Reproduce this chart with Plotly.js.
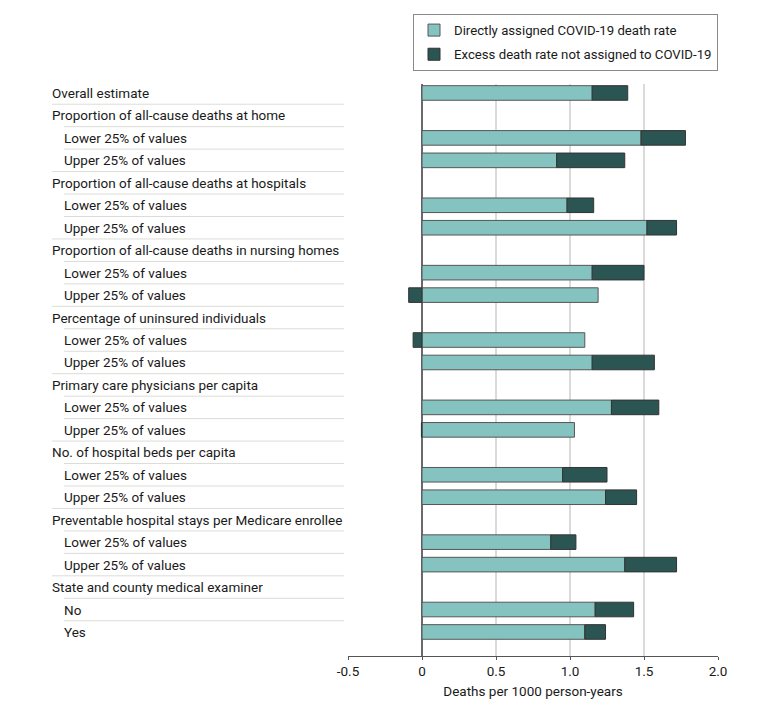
<!DOCTYPE html>
<html>
<head>
<meta charset="utf-8">
<script src="https://cdn.plot.ly/plotly-3.0.1.min.js"></script>
<style>
  html, body { margin: 0; padding: 0; background: #ffffff; }
  #chart { width: 780px; height: 708px; }
</style>
</head>
<body>
<div id="chart"></div>
<script>
// ---- data ----
var rowLabels = [
  "Overall estimate",
  "Proportion of all-cause deaths at home",
  "Lower 25% of values",
  "Upper 25% of values",
  "Proportion of all-cause deaths at hospitals",
  "Lower 25% of values",
  "Upper 25% of values",
  "Proportion of all-cause deaths in nursing homes",
  "Lower 25% of values",
  "Upper 25% of values",
  "Percentage of uninsured individuals",
  "Lower 25% of values",
  "Upper 25% of values",
  "Primary care physicians per capita",
  "Lower 25% of values",
  "Upper 25% of values",
  "No. of hospital beds per capita",
  "Lower 25% of values",
  "Upper 25% of values",
  "Preventable hospital stays per Medicare enrollee",
  "Lower 25% of values",
  "Upper 25% of values",
  "State and county medical examiner",
  "No",
  "Yes"
];
// true = group header (no indent)
var rowIsHeader = [
  true,
  true, false, false,
  true, false, false,
  true, false, false,
  true, false, false,
  true, false, false,
  true, false, false,
  true, false, false,
  true, false, false
];
var covidRate = [
  1.15,
  null, 1.48, 0.91,
  null, 0.98, 1.52,
  null, 1.15, 1.19,
  null, 1.10, 1.15,
  null, 1.28, 1.03,
  null, 0.95, 1.24,
  null, 0.87, 1.37,
  null, 1.17, 1.10
];
var excessRate = [
  0.24,
  null, 0.30, 0.46,
  null, 0.18, 0.20,
  null, 0.35, -0.09,
  null, -0.06, 0.42,
  null, 0.32, -0.004,
  null, 0.30, 0.21,
  null, 0.17, 0.35,
  null, 0.26, 0.14
];
var seriesNames = ["Directly assigned COVID-19 death rate", "Excess death rate not assigned to COVID-19"];
var xTickVals = [-0.5, 0, 0.5, 1.0, 1.5, 2.0];
var xTickText = ["-0.5", "0", "0.5", "1.0", "1.5", "2.0"];

// ---- build ----
var rowIdx = rowLabels.map(function (_, i) { return i; });
var FONT = "Roboto, 'Liberation Sans', sans-serif";
var LIGHT = "#85c3c0";
var DARK = "#2b5553";
var OUTLINE = "#565656";
var BARW = 0.65;

var traces = [
  {
    type: "bar", orientation: "h", name: seriesNames[0], legendgroup: "a",
    y: rowIdx, x: covidRate, width: BARW,
    marker: { color: LIGHT, line: { color: OUTLINE, width: 1 } },
    hoverinfo: "x"
  },
  {
    type: "bar", orientation: "h", name: seriesNames[1], legendgroup: "b",
    y: rowIdx, x: excessRate, width: BARW,
    marker: { color: DARK, line: { color: "#333333", width: 1 } },
    hoverinfo: "x"
  }
];

var plotLeft = 348, plotWidth = 370, plotTop = 84, plotHeight = 572;
function paperX(px) { return (px - plotLeft) / plotWidth; }

var annotations = [];
var shapes = [];
rowLabels.forEach(function (lab, i) {
  var indentPx = rowIsHeader[i] ? 52 : 64;
  annotations.push({
    xref: "paper", yref: "y", x: paperX(indentPx - 2), y: i,
    xanchor: "left", yanchor: "middle", showarrow: false,
    text: lab, font: { family: FONT, size: 13.5, color: "#1a1a1a" }
  });
  if (i > 0) {
    shapes.push({
      type: "line", xref: "paper", yref: "y",
      x0: paperX(indentPx), x1: paperX(344), y0: i - 0.5, y1: i - 0.5,
      line: { color: "#dcdcd6", width: 1 }
    });
  }
});

var layout = {
  width: 780, height: 708,
  margin: { l: plotLeft, r: 780 - plotLeft - plotWidth, t: plotTop, b: 708 - plotTop - plotHeight },
  paper_bgcolor: "#ffffff", plot_bgcolor: "#ffffff",
  barmode: "relative",
  font: { family: FONT, size: 13, color: "#1a1a1a" },
  xaxis: {
    range: [-0.5, 2.0], tickvals: xTickVals, ticktext: xTickText,
    showgrid: true, gridcolor: "#dadada", gridwidth: 1.5,
    zeroline: true, zerolinecolor: "#6a6a6a", zerolinewidth: 1.5,
    showline: true, linecolor: "#555555", linewidth: 1,
    ticks: "outside", ticklen: 3, tickcolor: "#555555",
    tickfont: { family: FONT, size: 13.5, color: "#1a1a1a" },
    title: { text: "Deaths per 1000 person-years", standoff: 8, font: { family: FONT, size: 13.5, color: "#1a1a1a" } },
    fixedrange: true
  },
  yaxis: {
    range: [25.07, -0.40], showticklabels: false, showgrid: false,
    zeroline: false, showline: false, ticks: "", fixedrange: true
  },
  showlegend: true,
  legend: {
    x: paperX(413), y: 1 + (plotTop - 14) / plotHeight, xanchor: "left", yanchor: "top",
    bordercolor: "#8a8a8a", borderwidth: 1, bgcolor: "#ffffff",
    traceorder: "grouped",
    font: { family: FONT, size: 13.2, color: "#1a1a1a" },
    tracegroupgap: 4
  },
  annotations: annotations,
  shapes: shapes
};

Plotly.newPlot("chart", traces, layout, { displayModeBar: false });
</script>
</body>
</html>
